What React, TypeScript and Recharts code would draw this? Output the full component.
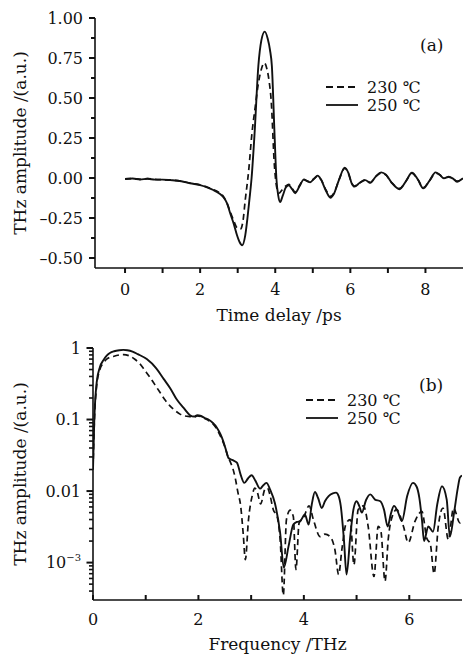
import React from 'react'
import { LineChart, Line, XAxis, YAxis, Legend } from 'recharts'

// (a) time-domain waveforms, [time delay ps, amplitude a.u.]
const wave230: [number, number][] = [
  [0, -0.006], [0.2, -0.004], [0.4, -0.008], [0.6, -0.004], [0.8, -0.009], [1.0, -0.011],
  [1.2, -0.012], [1.5, -0.02], [1.73, -0.032], [2.0, -0.043], [2.2, -0.058], [2.35, -0.072],
  [2.5, -0.09], [2.62, -0.115], [2.72, -0.16], [2.8, -0.21], [2.9, -0.27], [2.98, -0.31],
  [3.07, -0.32], [3.14, -0.27], [3.2, -0.14], [3.29, 0.04], [3.38, 0.28], [3.47, 0.45],
  [3.55, 0.59], [3.63, 0.68], [3.71, 0.72], [3.78, 0.68], [3.84, 0.6], [3.89, 0.49],
  [3.98, 0.07], [4.04, -0.06], [4.1, -0.095], [4.18, -0.075], [4.28, -0.05], [4.36, -0.04],
  [4.45, -0.065], [4.53, -0.088], [4.65, -0.045], [4.76, -0.008], [4.85, -0.018], [4.93, -0.025],
  [5.03, -0.005], [5.13, 0.012], [5.22, -0.01], [5.35, -0.075], [5.47, -0.115], [5.56, -0.095],
  [5.7, -0.01], [5.85, 0.06], [5.95, 0.028], [6.03, -0.028], [6.11, -0.05], [6.25, -0.03],
  [6.4, -0.012], [6.53, -0.028], [6.68, 0.01], [6.82, 0.03], [6.95, 0.018], [7.1, -0.028],
  [7.31, -0.065], [7.48, -0.02], [7.64, 0.03], [7.8, -0.01], [7.94, -0.06], [8.1, -0.02],
  [8.27, 0.03], [8.38, 0.02], [8.49, 0.0], [8.62, 0.006], [8.74, -0.005], [8.84, -0.02], [9.0, -0.004],
]

const wave250: [number, number][] = [
  [0, -0.006], [0.2, -0.003], [0.4, -0.009], [0.6, -0.005], [0.8, -0.01], [1.0, -0.01],
  [1.2, -0.013], [1.5, -0.02], [1.73, -0.033], [2.0, -0.045], [2.2, -0.06], [2.35, -0.075],
  [2.5, -0.095], [2.62, -0.12], [2.72, -0.16], [2.8, -0.22], [2.9, -0.29], [2.98, -0.356],
  [3.05, -0.4], [3.12, -0.42], [3.2, -0.36], [3.26, -0.25], [3.31, -0.14], [3.37, 0.0],
  [3.45, 0.28], [3.55, 0.7], [3.63, 0.86], [3.72, 0.915], [3.8, 0.87], [3.86, 0.8],
  [3.91, 0.7], [3.98, 0.28], [4.03, 0.0], [4.08, -0.11], [4.13, -0.15], [4.2, -0.11],
  [4.28, -0.06], [4.36, -0.045], [4.45, -0.07], [4.53, -0.095], [4.65, -0.05], [4.76, -0.01],
  [4.85, -0.02], [4.93, -0.027], [5.03, -0.005], [5.13, 0.015], [5.22, -0.01], [5.35, -0.08],
  [5.47, -0.123], [5.56, -0.1], [5.7, -0.01], [5.85, 0.065], [5.95, 0.03], [6.03, -0.03],
  [6.11, -0.054], [6.25, -0.03], [6.4, -0.013], [6.53, -0.03], [6.68, 0.01], [6.82, 0.035],
  [6.95, 0.02], [7.1, -0.03], [7.31, -0.07], [7.48, -0.02], [7.64, 0.033], [7.8, -0.01],
  [7.94, -0.065], [8.1, -0.02], [8.27, 0.035], [8.38, 0.02], [8.49, -0.002], [8.62, 0.008],
  [8.74, -0.005], [8.84, -0.023], [9.0, -0.002],
]

// (b) amplitude spectra, [frequency THz, amplitude a.u.]
const spec230: [number, number][] = [
  [0, 0.02], [0.025, 0.09], [0.07, 0.3], [0.13, 0.5], [0.2, 0.62], [0.26, 0.7], [0.385, 0.76],
  [0.5, 0.8], [0.58, 0.81], [0.7, 0.77], [0.8, 0.69], [0.89, 0.6], [0.98, 0.49], [1.08, 0.39],
  [1.17, 0.31], [1.27, 0.24], [1.36, 0.19], [1.46, 0.155], [1.55, 0.135], [1.65, 0.119],
  [1.75, 0.112], [1.84, 0.11], [1.92, 0.108], [1.98, 0.112], [2.05, 0.11], [2.12, 0.103],
  [2.19, 0.097], [2.27, 0.088], [2.35, 0.074], [2.42, 0.058], [2.5, 0.042], [2.55, 0.032],
  [2.6, 0.026], [2.65, 0.021], [2.7, 0.015], [2.75, 0.0095], [2.8, 0.0063], [2.85, 0.0025],
  [2.89, 0.0011], [2.95, 0.004], [3.02, 0.0086], [3.07, 0.011], [3.12, 0.0095], [3.18, 0.0066],
  [3.26, 0.0105], [3.31, 0.011], [3.36, 0.0086], [3.42, 0.0055], [3.49, 0.0045], [3.55, 0.0021],
  [3.61, 0.00035], [3.67, 0.004], [3.74, 0.0054], [3.8, 0.0044], [3.85, 0.0008], [3.91, 0.0036],
  [3.99, 0.0042], [4.1, 0.0062], [4.18, 0.004], [4.31, 0.0023], [4.4, 0.0025], [4.5, 0.0023],
  [4.59, 0.0015], [4.66, 0.00068], [4.72, 0.0015], [4.8, 0.0035], [4.88, 0.004], [4.95, 0.00093],
  [5.03, 0.0055], [5.13, 0.0062], [5.22, 0.0032], [5.33, 0.00064], [5.41, 0.0032], [5.46, 0.0028],
  [5.54, 0.00055], [5.6, 0.0021], [5.68, 0.0045], [5.76, 0.0055], [5.89, 0.0032], [5.98, 0.0019],
  [6.11, 0.0038], [6.24, 0.0052], [6.33, 0.0022], [6.4, 0.0018], [6.47, 0.0007], [6.55, 0.0032],
  [6.64, 0.0058], [6.74, 0.0021], [6.84, 0.0058], [6.96, 0.0036], [7.0, 0.0038],
]

const spec250: [number, number][] = [
  [0, 0.02], [0.025, 0.1], [0.07, 0.33], [0.13, 0.54], [0.2, 0.68], [0.26, 0.78], [0.32, 0.85],
  [0.4, 0.9], [0.5, 0.93], [0.575, 0.94], [0.65, 0.93], [0.75, 0.89], [0.85, 0.82], [1.02, 0.7],
  [1.2, 0.52], [1.34, 0.37], [1.47, 0.27], [1.59, 0.19], [1.72, 0.145], [1.84, 0.115], [1.92, 0.11],
  [1.98, 0.115], [2.05, 0.112], [2.12, 0.105], [2.19, 0.1], [2.27, 0.09], [2.35, 0.077],
  [2.42, 0.062], [2.47, 0.05], [2.52, 0.038], [2.57, 0.029], [2.65, 0.027], [2.73, 0.025],
  [2.8, 0.017], [2.87, 0.013], [2.94, 0.015], [3.01, 0.0166], [3.08, 0.014], [3.17, 0.0108],
  [3.22, 0.0118], [3.29, 0.013], [3.36, 0.0105], [3.45, 0.0068], [3.55, 0.0026], [3.62, 0.00085],
  [3.71, 0.0017], [3.8, 0.0034], [3.87, 0.0037], [3.93, 0.0038], [4.02, 0.0047], [4.09, 0.0034],
  [4.15, 0.0065], [4.21, 0.0097], [4.27, 0.008], [4.34, 0.0058], [4.4, 0.0072], [4.47, 0.0085],
  [4.55, 0.0093], [4.61, 0.0095], [4.66, 0.0085], [4.7, 0.0062], [4.76, 0.0021], [4.81, 0.00068],
  [4.88, 0.0023], [4.94, 0.0055], [5.0, 0.0072], [5.05, 0.0062], [5.1, 0.005], [5.18, 0.0075],
  [5.26, 0.009], [5.35, 0.0076], [5.45, 0.0072], [5.52, 0.0055], [5.59, 0.0032], [5.65, 0.0048],
  [5.71, 0.0062], [5.78, 0.0052], [5.86, 0.0038], [5.96, 0.0085], [6.07, 0.013], [6.14, 0.0115],
  [6.19, 0.0081], [6.24, 0.004], [6.28, 0.002], [6.36, 0.0032], [6.45, 0.0027], [6.53, 0.0065],
  [6.62, 0.0117], [6.71, 0.0076], [6.77, 0.0023], [6.85, 0.005], [6.92, 0.011], [6.96, 0.0154],
  [7.0, 0.0165],
]

// axis ticks
const timeTicks = [0, 1, 2, 3, 4, 5, 6, 7, 8]
const timeLabels = [0, 2, 4, 6, 8]
const ampTicks = [-0.5, -0.375, -0.25, -0.125, 0, 0.125, 0.25, 0.375, 0.5, 0.625, 0.75, 0.875, 1]
const ampLabels = [-0.5, -0.25, 0, 0.25, 0.5, 0.75, 1]
const freqTicks = [0, 1, 2, 3, 4, 5, 6]
const freqLabels = [0, 2, 4, 6]
const specTicks = [
  0.0004, 0.0005, 0.0006, 0.0007, 0.0008, 0.0009, 0.001,
  0.002, 0.003, 0.004, 0.005, 0.006, 0.007, 0.008, 0.009, 0.01,
  0.02, 0.03, 0.04, 0.05, 0.06, 0.07, 0.08, 0.09, 0.1,
  0.2, 0.3, 0.4, 0.5, 0.6, 0.7, 0.8, 0.9, 1,
]
const specLabels = [1, 0.1, 0.01, 0.001]

const INK = '#111'
const FONT = '"DejaVu Serif", "Liberation Serif", serif'

const toXY = (pts: [number, number][]) => pts.map(([x, y]) => ({ x, y }))

const fmtAmp = (v: number) => v.toFixed(2).replace('-', '–')

function AmpTick(props: any) {
  const x = Number(props.x)
  const y = Number(props.y)
  const v = props.payload.value
  const major = ampLabels.includes(v)
  return (
    <g>
      <line x1={x - (major ? 6 : 4)} x2={x} y1={y} y2={y} stroke={INK} strokeWidth={2} />
      {major && (
        <text x={x - 12} y={y} dy="0.36em" textAnchor="end" fontSize={16} fill={INK}>
          {fmtAmp(v)}
        </text>
      )}
    </g>
  )
}

function TimeTick(props: any) {
  const x = Number(props.x)
  const y = Number(props.y)
  const v = props.payload.value
  return (
    <g>
      <line x1={x} x2={x} y1={y} y2={y + 5} stroke={INK} strokeWidth={2} />
      {timeLabels.includes(v) && (
        <text x={x} y={y + 27} textAnchor="middle" fontSize={16} fill={INK}>{v}</text>
      )}
    </g>
  )
}

function SpecTick(props: any) {
  const x = Number(props.x)
  const y = Number(props.y)
  const v = props.payload.value
  const major = specLabels.includes(v)
  return (
    <g>
      <line x1={x - (major ? 6.5 : 4)} x2={x} y1={y} y2={y} stroke={INK} strokeWidth={major ? 2 : 1.6} />
      {major && (
        <text x={x - 12} y={y} dy="0.36em" textAnchor="end" fontSize={16} fill={INK}>
          {v === 0.001 ? (
            <>
              <tspan>10</tspan>
              <tspan dy={-7} fontSize={10}>−3</tspan>
            </>
          ) : String(v)}
        </text>
      )}
    </g>
  )
}

function FreqTick(props: any) {
  const x = Number(props.x)
  const y = Number(props.y)
  const v = props.payload.value
  return (
    <g>
      <line x1={x} x2={x} y1={y} y2={y - 5} stroke={INK} strokeWidth={2} />
      {freqLabels.includes(v) && (
        <text x={x} y={y + 24.5} textAnchor="middle" fontSize={16} fill={INK}>{v}</text>
      )}
    </g>
  )
}

function SeriesKey({ payload, tag, tagX, tagY, rowY }: any) {
  return (
    <svg width={150} height={90} style={{ display: 'block', overflow: 'visible', fontFamily: FONT }}>
      <text x={tagX} y={tagY} fontSize={17} fill={INK}>{tag}</text>
      {(payload || []).map((e: any, i: number) => {
        const y = rowY + i * 18
        const dashed = String(e.value).startsWith('230')
        return (
          <g key={e.value}>
            <line x1={6} x2={38} y1={y} y2={y} stroke={INK} strokeWidth={1.8}
              strokeDasharray={dashed ? '7 4' : undefined} />
            <text x={47} y={y} dy="0.36em" fontSize={16} fill={INK}>{e.value}</text>
          </g>
        )
      })}
    </svg>
  )
}

const axisLine = { stroke: INK, strokeWidth: 1.6 }
const titleStyle = { fontSize: 17, fill: INK, textAnchor: 'middle' as const }

export default function App() {
  return (
    <div style={{ position: 'absolute', left: 0, top: 0, width: 463, height: 656, background: '#fff', fontFamily: FONT }}>
      <div style={{ position: 'absolute', left: 0, top: 0 }}>
        <LineChart width={463} height={330} margin={{ top: 18, right: 0, bottom: 0, left: 0 }} style={{ fontFamily: FONT }}>
          <XAxis
            dataKey="x" type="number" domain={[-0.8, 9]} allowDataOverflow
            ticks={timeTicks} interval={0} height={62}
            tickSize={0} tickMargin={0} tickLine={false} axisLine={axisLine}
            tick={(p: any) => <TimeTick {...p} />}
            label={{ value: 'Time delay /ps', position: 'insideTop', offset: 41, style: titleStyle }}
          />
          <YAxis
            type="number" domain={[-0.5625, 1]} allowDataOverflow
            ticks={ampTicks} interval={0} width={95}
            tickSize={0} tickMargin={0} tickLine={false} axisLine={axisLine}
            tick={(p: any) => <AmpTick {...p} />}
            label={{ value: 'THz amplitude /(a.u.)', angle: -90, position: 'insideLeft', offset: 20, style: titleStyle }}
          />
          <Legend
            layout="vertical" align="center" verticalAlign="middle"
            wrapperStyle={{ left: 320, top: 30, width: 150, height: 90 }}
            content={(p: any) => <SeriesKey payload={p.payload} tag="(a)" tagX={100} tagY={21} rowY={57} />}
          />
          <Line data={toXY(wave230)} dataKey="y" name="230 ℃" type="monotone" stroke={INK}
            strokeWidth={1.7} strokeDasharray="6 4" dot={false} isAnimationActive={false} />
          <Line data={toXY(wave250)} dataKey="y" name="250 ℃" type="monotone" stroke={INK}
            strokeWidth={1.9} dot={false} isAnimationActive={false} />
        </LineChart>
      </div>
      <div style={{ position: 'absolute', left: 0, top: 330 }}>
        <LineChart width={463} height={326} margin={{ top: 18, right: 1, bottom: 0, left: 0 }} style={{ fontFamily: FONT }}>
          <XAxis
            dataKey="x" type="number" domain={[0, 7]} allowDataOverflow
            ticks={freqTicks} interval={0} height={56}
            tickSize={0} tickMargin={0} tickLine={false} axisLine={axisLine}
            tick={(p: any) => <FreqTick {...p} />}
            label={{ value: 'Frequency /THz', position: 'insideTop', offset: 38, style: titleStyle }}
          />
          <YAxis
            type="number" scale="log" domain={[0.0003, 1]} allowDataOverflow
            ticks={specTicks} interval={0} width={93}
            tickSize={0} tickMargin={0} tickLine={false} axisLine={axisLine}
            tick={(p: any) => <SpecTick {...p} />}
            label={{ value: 'THz amplitude /(a.u.)', angle: -90, position: 'insideLeft', offset: 20, style: titleStyle }}
          />
          <Legend
            layout="vertical" align="center" verticalAlign="middle"
            wrapperStyle={{ left: 300, top: 30, width: 150, height: 90 }}
            content={(p: any) => <SeriesKey payload={p.payload} tag="(b)" tagX={119} tagY={31} rowY={40} />}
          />
          <Line data={toXY(spec230)} dataKey="y" name="230 ℃" type="monotone" stroke={INK}
            strokeWidth={1.7} strokeDasharray="6 4" dot={false} isAnimationActive={false} />
          <Line data={toXY(spec250)} dataKey="y" name="250 ℃" type="monotone" stroke={INK}
            strokeWidth={1.9} dot={false} isAnimationActive={false} />
        </LineChart>
      </div>
    </div>
  )
}
